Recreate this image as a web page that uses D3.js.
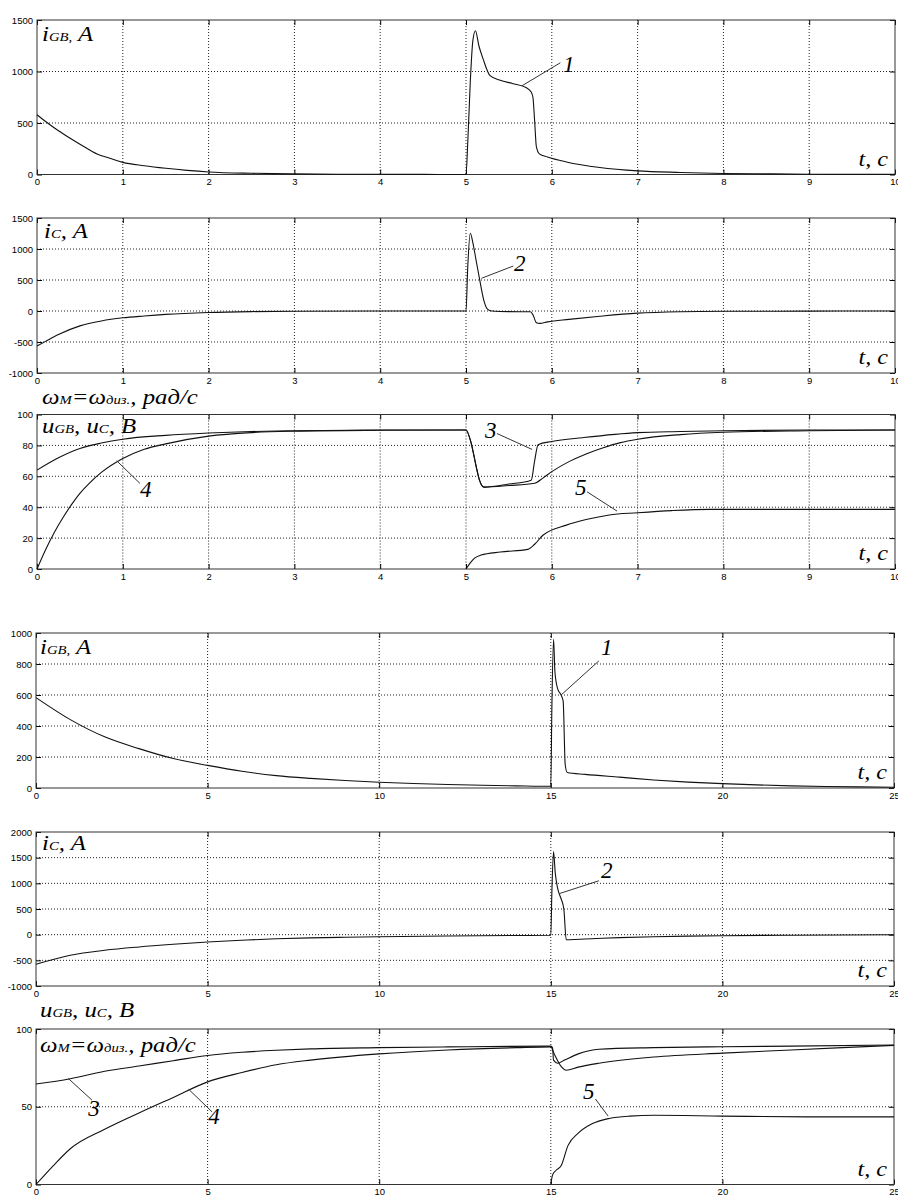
<!DOCTYPE html>
<html>
<head>
<meta charset="utf-8">
<script src="https://cdn.jsdelivr.net/npm/d3@7"></script>
<style>
body { margin: 0; background: #fff; }
.tick text { font-family: "Liberation Sans", Arial, sans-serif; font-size: 9.5px; fill: #000; }
.lbl { font-family: "Liberation Serif", "Times New Roman", serif; font-style: italic; fill: #000; }
</style>
</head>
<body>
<div id="chart"></div>
<script>
/* transients: currents, voltages and speed — two runs (0..10 s and 0..25 s) */

// run 1, 0..10 s
const t1 = [0, 0.1, 0.25, 0.4, 0.55, 0.7, 0.85, 1.0, 1.25, 1.5, 1.75, 2.0, 2.5, 3.0, 3.5, 4.0, 4.5, 5.0, 5.02, 5.05, 5.08, 5.11, 5.15, 5.2, 5.28, 5.4, 5.54, 5.7, 5.76, 5.78, 5.8, 5.82, 5.855, 5.95, 6.17, 6.56, 7.0, 7.5, 8.0, 8.5, 9.0, 10.0];
const iGB1 = [580, 515, 425, 345, 270, 200, 158, 118, 85, 60, 40, 25, 12, 6, 3, 2, 1, 0, 300, 900, 1300, 1395, 1250, 1120, 960, 915, 884, 845, 800, 750, 520, 270, 200, 170, 122, 68, 35, 20, 10, 6, 3, 1];

const t2 = [0, 0.1, 0.25, 0.5, 0.75, 1.0, 1.25, 1.5, 2.0, 2.5, 3.0, 4.0, 5.0, 5.02, 5.05, 5.08, 5.12, 5.155, 5.21, 5.25, 5.3, 5.5, 5.75, 5.78, 5.82, 5.86, 5.95, 6.2, 6.56, 7.0, 7.5, 8.0, 9.0, 10.0];
const iC1 = [-565, -490, -380, -240, -160, -110, -80, -55, -25, -10, -3, 0, 0, 700, 1253, 1100, 800, 537, 160, 30, 0, -10, -12, -60, -188, -200, -175, -135, -85, -35, -12, -5, -2, 0];

const t3a = [0, 0.25, 0.5, 0.75, 1.0, 1.5, 2.0, 2.5, 3.0, 4.0, 5.0, 5.06, 5.12, 5.16, 5.21, 5.5, 5.76, 5.8, 5.84, 6.0, 6.36, 7.0, 7.5, 8.0, 9.0, 10.0];
const w1 = [64, 72, 78, 81.5, 84, 86.5, 88, 89, 89.5, 90, 90, 81.5, 66, 57, 53, 55, 57.5, 70, 80.5, 82.5, 85, 88.3, 89, 89.5, 90, 90];

const t3b = [0, 0.1, 0.2, 0.3, 0.4, 0.5, 0.6, 0.75, 1.0, 1.25, 1.5, 2.0, 2.5, 3.0, 4.0, 5.0, 5.06, 5.12, 5.16, 5.21, 5.5, 5.8, 5.9, 6.0, 6.2, 6.4, 6.6, 6.8, 7.0, 7.5, 8.0, 9.0, 10.0];
const u1 = [0, 12.5, 23.5, 33, 41.5, 49, 55, 62.5, 71.5, 77.5, 81, 86, 88.3, 89.2, 89.8, 90, 81.5, 66, 57, 53, 54, 55.5, 59, 63, 69.5, 74.5, 78.5, 81.8, 84, 87, 88.5, 89.5, 90];

const t3c = [5.0, 5.05, 5.1, 5.175, 5.4, 5.72, 5.8, 5.9, 6.17, 6.4, 6.67, 7.0, 7.4, 7.84, 8.5, 10.0];
const u5a = [0, 4, 7, 9, 11, 12.7, 16, 22, 28.4, 32, 35, 36.4, 37.8, 38.6, 38.6, 38.6];

// run 2, 0..25 s
const t4 = [0, 1, 2, 3, 4, 5, 6, 7, 8, 9, 10, 11, 12, 13, 14, 15, 15.03, 15.08, 15.12, 15.2, 15.3, 15.36, 15.42, 15.48, 16, 17, 18, 19, 20, 21, 22, 23, 24, 25];
const iGB2 = [583, 441, 330, 254, 190, 146, 108, 80, 62, 48, 37, 29, 23, 18, 14, 11, 500, 960, 750, 640, 600, 560, 150, 100, 88, 70, 52, 38, 28, 20, 14, 10, 7, 5];

const t5 = [0, 1, 2, 3, 4, 5, 6, 7, 8, 9, 10, 12, 14, 15, 15.03, 15.08, 15.13, 15.2, 15.3, 15.38, 15.45, 15.55, 16, 16.5, 17, 18, 19, 20, 22, 25];
const iC2 = [-577, -401, -304, -239, -187, -142, -109, -80, -62, -50, -40, -26, -16, -12, 800, 1620, 1200, 900, 700, 500, -100, -98, -85, -70, -58, -40, -28, -20, -10, -3];

const t6a = [0, 1, 2, 3, 4, 5, 6, 7, 8, 10, 12, 15, 15.05, 15.08, 15.2, 15.4, 15.8, 16.4, 18, 20, 22, 25];
const w2 = [64.6, 68, 72.8, 76.2, 79.6, 83, 85, 86.3, 87.2, 88, 88.5, 89, 88, 80, 78, 80, 84, 87, 88, 88.6, 89, 89.7];

const t6b = [0, 0.5, 1, 2, 3, 4, 5, 6, 7, 8, 10, 12, 14, 15, 15.1, 15.3, 15.45, 15.8, 16.4, 18, 20, 22, 25];
const u2 = [0, 12, 23, 35.5, 46, 56, 66, 72, 77, 80, 84, 86.5, 88, 88.5, 84, 76, 73.5, 75.5, 78, 82, 84.5, 86.5, 89.5];

const t6c = [15, 15.05, 15.15, 15.3, 15.5, 15.8, 16.2, 16.7, 17.3, 18, 20, 22.5, 25];
const u5b = [0, 6, 9, 12, 25, 33, 39, 42.5, 44, 44.5, 44, 43.5, 43.5];

// tick labels
const xTicks1 = [0, 1, 2, 3, 4, 5, 6, 7, 8, 9, 10];
const xTicks2 = [0, 5, 10, 15, 20, 25];
const yTicksI1 = [0, 500, 1000, 1500];
const yTicksC1 = [-1000, -500, 0, 500, 1000, 1500];
const yTicksU1 = [0, 20, 40, 60, 80, 100];
const yTicksI2 = [0, 200, 400, 600, 800, 1000];
const yTicksC2 = [-1000, -500, 0, 500, 1000, 1500, 2000];
const yTicksU2 = [0, 50, 100];

const width = 898, height = 1196;

let svg = d3.select("#chart")
    .append("svg")
    .attr("width", width)
    .attr("height", height)
    .attr("viewBox", [0, 0, width, height]);

// italic label with small "subscript" parts sitting on the baseline
// (scan of the original is stretched sideways, hence scale x)
function label(x, y, parts) {
    let txt = svg.append("text").attr("class", "lbl")
        .attr("transform", `translate(${x},${y}) scale(1.18,1)`)
        .attr("font-size", 21);
    parts.forEach(p => {
        txt.append("tspan")
            .attr("font-size", p[1] ? 12.5 : 21)
            .text(p[0]);
    });
}

function drawPanel(p) {
    let x = d3.scaleLinear().domain(p.xd).range([p.left, p.right]);
    let y = d3.scaleLinear().domain(p.yd).range([p.bottom, p.top]);
    let g = svg.append("g");

    // dotted grid
    g.selectAll(".gx")
        .data(p.xt.filter(v => v > p.xd[0] && v < p.xd[1]))
        .join("line")
        .attr("x1", d => x(d)).attr("x2", d => x(d))
        .attr("y1", p.top).attr("y2", p.bottom)
        .attr("stroke", "#222").attr("stroke-dasharray", "1,2");
    g.selectAll(".gy")
        .data(p.yt.filter(v => v > p.yd[0] && v < p.yd[1]))
        .join("line")
        .attr("y1", d => y(d)).attr("y2", d => y(d))
        .attr("x1", p.left).attr("x2", p.right)
        .attr("stroke", "#222").attr("stroke-dasharray", "1,2");

    // inward ticks on all four sides
    g.append("g").attr("transform", `translate(0,${p.bottom})`)
        .call(d3.axisBottom(x).tickValues(p.xt).tickSize(-5).tickPadding(4).tickFormat(d => String(d)));
    g.append("g").attr("transform", `translate(0,${p.top})`)
        .call(d3.axisTop(x).tickValues(p.xt).tickSize(-5).tickFormat(""));
    g.append("g").attr("transform", `translate(${p.left},0)`)
        .call(d3.axisLeft(y).tickValues(p.yt).tickSize(-5).tickPadding(4).tickFormat(d => String(d)));
    g.append("g").attr("transform", `translate(${p.right},0)`)
        .call(d3.axisRight(y).tickValues(p.yt).tickSize(-5).tickFormat(""));
    g.selectAll(".domain").remove();

    g.append("rect")
        .attr("x", p.left).attr("y", p.top)
        .attr("width", p.right - p.left).attr("height", p.bottom - p.top)
        .attr("fill", "none").attr("stroke", "#333");

    let line = d3.line()
        .x(d => x(d[0]))
        .y(d => y(d[1]))
        .curve(d3.curveMonotoneX);

    p.series.forEach(s => {
        g.append("path")
            .datum(d3.zip(s[0], s[1]))
            .attr("fill", "none")
            .attr("stroke", "#111")
            .attr("stroke-width", 1.1)
            .attr("d", line);
    });

    // numbered callouts
    (p.notes || []).forEach(n => {
        g.append("line")
            .attr("x1", x(n.from[0])).attr("y1", y(n.from[1]))
            .attr("x2", x(n.to[0])).attr("y2", y(n.to[1]))
            .attr("stroke", "#333").attr("stroke-width", 1);
        g.append("text").attr("class", "lbl").attr("font-size", 23)
            .attr("x", x(n.at[0])).attr("y", y(n.at[1]))
            .text(n.text);
    });

    // t, c
    g.append("text").attr("class", "lbl").attr("font-size", 21)
        .attr("text-anchor", "end")
        .attr("transform", `translate(${p.right - 7},${p.bottom - 9}) scale(1.15,1)`)
        .text("t, c");
}

drawPanel({
    left: 37, right: 895, top: 20, bottom: 174.5,
    xd: [0, 10], yd: [0, 1500], xt: xTicks1, yt: yTicksI1,
    series: [[t1, iGB1]],
    notes: [{text: "1", from: [5.65, 860], to: [6.1, 1085], at: [6.13, 1000]}]
});
drawPanel({
    left: 37, right: 895, top: 218, bottom: 373,
    xd: [0, 10], yd: [-1000, 1500], xt: xTicks1, yt: yTicksC1,
    series: [[t2, iC1]],
    notes: [{text: "2", from: [5.18, 527], to: [5.55, 725], at: [5.56, 640]}]
});
drawPanel({
    left: 37, right: 895, top: 414.5, bottom: 569,
    xd: [0, 10], yd: [0, 100], xt: xTicks1, yt: yTicksU1,
    series: [[t3a, w1], [t3b, u1], [t3c, u5a]],
    notes: [
        {text: "3", from: [5.36, 87.7], to: [5.77, 77.4], at: [5.22, 84.5]},
        {text: "4", from: [0.93, 70], to: [1.2, 55.4], at: [1.2, 46.3]},
        {text: "5", from: [6.41, 50], to: [6.76, 37.5], at: [6.27, 47.8]}
    ]
});
drawPanel({
    left: 36, right: 894, top: 633, bottom: 788,
    xd: [0, 25], yd: [0, 1000], xt: xTicks2, yt: yTicksI2,
    series: [[t4, iGB2]],
    notes: [{text: "1", from: [15.3, 600], to: [16.4, 820], at: [16.46, 855]}]
});
drawPanel({
    left: 36, right: 894, top: 832, bottom: 986,
    xd: [0, 25], yd: [-1000, 2000], xt: xTicks2, yt: yTicksC2,
    series: [[t5, iC2]],
    notes: [{text: "2", from: [15.25, 800], to: [16.4, 1050], at: [16.46, 1100]}]
});
drawPanel({
    left: 36, right: 894, top: 1029, bottom: 1184.5,
    xd: [0, 25], yd: [0, 100], xt: xTicks2, yt: yTicksU2,
    series: [[t6a, w2], [t6b, u2], [t6c, u5b]],
    notes: [
        {text: "3", from: [0.94, 68.2], to: [1.63, 54.3], at: [1.52, 44]},
        {text: "4", from: [4.45, 61.2], to: [5.13, 46.7], at: [5.02, 38.8]},
        {text: "5", from: [16.3, 55], to: [16.67, 44], at: [15.94, 55]}
    ]
});

// axis titles
label(42, 41, [["i"], ["GB,", 1], [" A"]]);
label(44, 238, [["i"], ["C", 1], [", A"]]);
label(42, 404, [["ω"], ["M", 1], ["=ω"], ["диз.", 1], [", рад/с"]]);
label(42, 433, [["u"], ["GB", 1], [", u"], ["C", 1], [", B"]]);
label(40, 654, [["i"], ["GB,", 1], [" A"]]);
label(42, 850, [["i"], ["C", 1], [", A"]]);
label(40, 1017, [["u"], ["GB", 1], [", u"], ["C", 1], [", B"]]);
label(40, 1052, [["ω"], ["M", 1], ["=ω"], ["диз.", 1], [", рад/с"]]);
</script>
</body>
</html>
